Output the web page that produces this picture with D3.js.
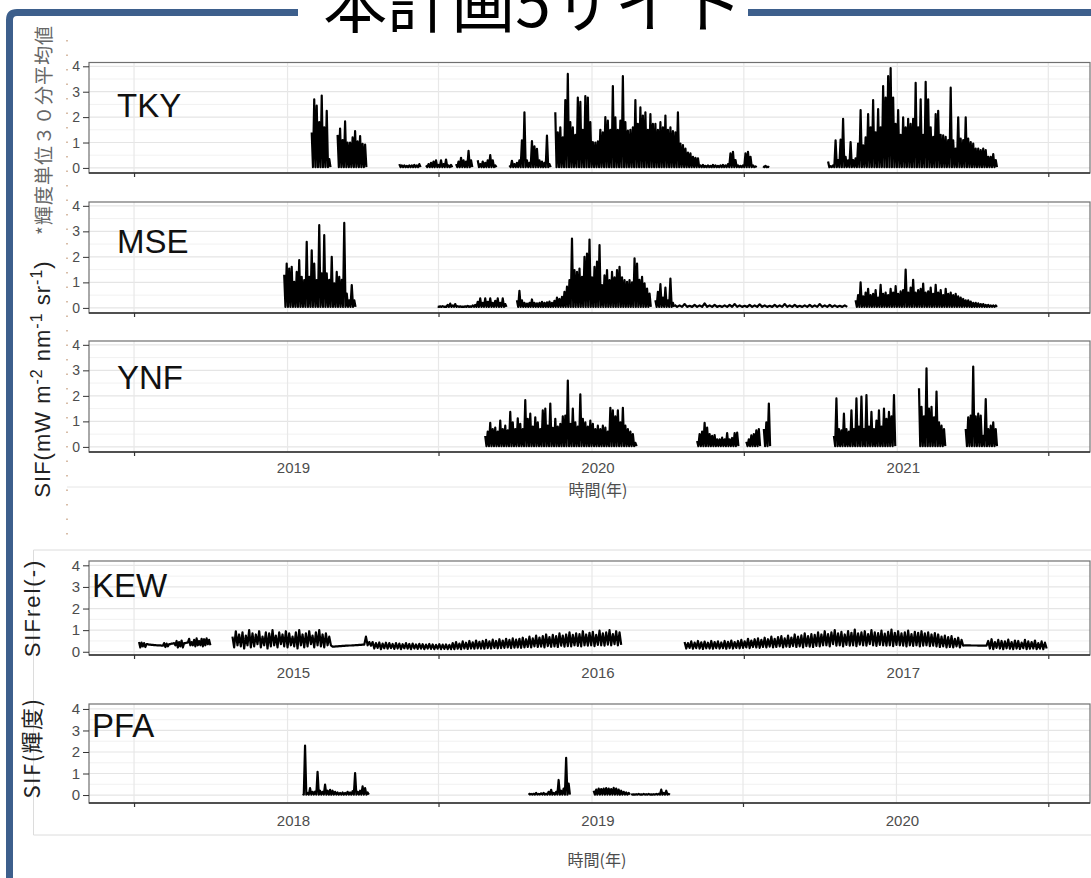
<!DOCTYPE html>
<html>
<head>
<meta charset="utf-8">
<script src="https://cdn.jsdelivr.net/npm/d3@7"></script>
<style>
  body { margin: 0; background: #fff; }
  text { font-family: "Liberation Sans", Arial, "Noto Sans CJK JP", sans-serif; }
  .jp { font-family: "Noto Sans CJK JP", "Liberation Sans", sans-serif; }
</style>
</head>
<body>
<svg id="chart" width="1091" height="878"></svg>
<script>
// ---- Data -------------------------------------------------------------
// Each segment: [start date, step in days, daily peak values (, daily low values)].
// Where no low values are given, each day falls back to the site's night floor.
const yTicks = [0, 1, 2, 3, 4];
const yMinor = [0.5, 1.5, 2.5, 3.5];

const tkyFloor = 0.03;
const tkySegments = [
  ["2019-01-30", 3, [1.4, 2.7, 2.45, 1.8, 2.85, 1.6, 2.25, 0.35]],
  ["2019-03-02", 3, [1.3, 1.55, 1.1, 1.83, 1.0, 1.0, 1.2, 1.45, 1.05, 1.25, 0.95, 0.92]],
  ["2019-05-15", 3, [0.15, 0.1, 0.1, 0.08, 0.1, 0.1, 0.12, 0.1, 0.15]],
  ["2019-06-16", 3, [0.1, 0.15, 0.2, 0.25, 0.3, 0.12, 0.3, 0.15, 0.33, 0.1, 0.12]],
  ["2019-07-22", 3, [0.15, 0.25, 0.4, 0.3, 0.25, 0.67, 0.3]],
  ["2019-08-17", 3, [0.3, 0.15, 0.25, 0.2, 0.3, 0.5, 0.3, 0.1]],
  ["2019-09-24", 3, [0.1, 0.28, 0.15, 0.2, 0.3, 1.09, 2.19, 0.3, 0.2, 1.06, 0.85, 0.75, 0.3, 0.25, 0.2, 1.27, 0.15]],
  ["2019-11-18", 3, [2.19, 1.4, 1.6, 1.2, 2.67, 3.7, 1.8, 1.6, 1.3, 2.77,
                     2.6, 1.5, 2.83, 2.77, 1.8, 1.02, 1.0, 1.05, 1.5, 1.4,
                     2.0, 1.86, 1.5, 3.22, 1.99, 1.5, 1.86, 3.61, 1.8, 1.47,
                     1.5, 1.6, 2.67, 1.73, 2.38, 2.06, 2.19, 1.5, 2.12, 1.73,
                     1.73, 1.5, 1.8, 1.6, 2.06, 1.5, 1.6, 1.45, 1.4, 2.19,
                     0.96, 0.9, 0.76, 0.6, 0.57, 0.44, 0.4, 0.38, 0.1, 0.12,
                     0.08, 0.1, 0.08, 0.12, 0.1, 0.08, 0.1, 0.12, 0.1, 0.15,
                     0.57, 0.63, 0.31, 0.1, 0.08, 0.1, 0.57, 0.63, 0.44, 0.1, 0.06]],
  ["2020-07-24", 3, [0.06, 0.08, 0.05]],
  ["2020-10-10", 3, [0.25, 0.07, 0.1, 1.09, 0.31, 1.11, 1.93, 0.44, 0.3, 1.02,
                     0.31, 0.38, 0.96, 2.28, 0.89, 1.2, 2.12, 1.6, 2.67, 1.4,
                     2.32, 1.6, 3.22, 2.77, 3.61, 3.93, 2.77, 1.73, 2.28, 1.3,
                     1.99, 1.6, 1.93, 1.73, 1.93, 3.35, 1.6, 2.7, 1.3, 3.39,
                     2.7, 1.6, 1.22, 2.12, 2.25, 1.3, 1.28, 1.22, 1.1, 3.16,
                     1.09, 0.76, 1.99, 1.15, 1.1, 1.99, 1.15, 1.02, 0.96, 0.76,
                     0.76, 0.7, 0.76, 0.7, 0.44, 0.44, 0.54, 0.31]]
];

const mseFloor = 0.04;
const mseSegments = [
  ["2018-12-28", 3, [1.3, 1.74, 1.54, 1.61, 1.02, 1.41, 1.87, 1.22, 1.09, 2.59,
                     1.22, 2.26, 1.74, 1.09, 3.24, 1.35, 2.85, 1.35, 1.1, 2.0,
                     0.96, 1.41, 1.22, 1.1, 3.33, 0.56, 0.3, 0.89, 0.3]],
  ["2019-06-30", 3, [0.05, 0.06, 0.07, 0.05, 0.12, 0.17, 0.1, 0.15, 0.07, 0.06,
                     0.05, 0.06, 0.08, 0.06, 0.1, 0.12, 0.24, 0.37, 0.2, 0.37,
                     0.24, 0.37, 0.2, 0.28, 0.37, 0.2, 0.37, 0.15]],
  ["2019-10-03", 3, [0.3, 0.67, 0.3, 0.2, 0.17, 0.2, 0.33, 0.2, 0.18, 0.2,
                     0.24, 0.2, 0.22, 0.25, 0.2, 0.28, 0.4, 0.35, 0.43, 0.63,
                     0.83, 1.09, 2.72, 1.48, 1.41, 1.54, 1.22, 2.0, 2.13, 2.68,
                     1.2, 1.61, 1.81, 2.46, 0.89, 1.28, 1.48, 1.09, 1.41, 1.2,
                     1.48, 1.61, 1.2, 1.09, 1.02, 1.09, 1.0, 1.94, 1.74, 1.1,
                     1.22, 0.96, 0.76, 0.56]],
  ["2020-03-17", 3, [0.3, 0.63, 0.93, 0.4, 0.8, 0.3, 1.15, 0.2]],
  ["2020-04-09", 6, [0.12, 0.1, 0.15, 0.08, 0.12, 0.1, 0.18, 0.1, 0.12, 0.08,
                     0.1, 0.12, 0.15, 0.1, 0.08, 0.12, 0.1, 0.14, 0.1, 0.08,
                     0.12, 0.1, 0.15, 0.1, 0.12, 0.08, 0.1, 0.12, 0.1, 0.15,
                     0.1, 0.12, 0.1, 0.08, 0.1]],
  ["2020-11-12", 3, [0.3, 0.5, 1.0, 0.45, 0.6, 0.75, 0.5, 0.55, 0.7, 0.4,
                     0.9, 0.55, 0.6, 0.5, 0.75, 0.6, 0.85, 0.55, 0.65, 0.7,
                     1.5, 0.6, 0.8, 1.1, 0.6, 0.7, 0.75, 0.95, 0.6, 0.65,
                     0.8, 0.55, 0.9, 0.6, 0.7, 0.5, 0.75, 0.55, 0.6, 0.5,
                     0.55, 0.45, 0.4, 0.35, 0.3, 0.3, 0.25, 0.2, 0.2, 0.18,
                     0.15, 0.15, 0.12, 0.12, 0.1, 0.1, 0.1]]
];

const ynfFloor = 0.03;
const ynfSegments = [
  ["2019-08-26", 3, [0.43, 0.6, 0.94, 0.7, 0.76, 0.6, 1.03, 0.7, 0.83, 0.65,
                     1.37, 0.96, 0.7, 1.12, 0.9, 0.7, 1.83, 1.1, 1.3, 0.8,
                     1.16, 0.96, 0.7, 1.43, 1.5, 0.83, 1.7, 0.75, 1.1, 0.8,
                     0.9, 1.2, 1.23, 2.6, 0.9, 1.5, 0.96, 0.8, 2.06, 1.1,
                     0.96, 0.8, 1.03, 0.9, 0.7, 0.83, 0.7, 0.83, 0.76, 0.6,
                     1.53, 1.43, 1.2, 1.43, 0.96, 1.53, 0.83, 0.7, 0.6, 0.5, 0.16]],
  ["2020-05-06", 3, [0.23, 0.5, 0.6, 0.94, 0.76, 0.5, 0.43, 0.46, 0.3, 0.3,
                     0.36, 0.3, 0.54, 0.3, 0.35, 0.54, 0.56]],
  ["2020-07-04", 3, [0.2, 0.3, 0.45, 0.5, 0.65, 0.7]],
  ["2020-07-25", 3, [0.7, 0.96, 1.7]],
  ["2020-10-17", 3, [0.43, 1.9, 0.7, 0.65, 1.3, 0.7, 0.6, 1.43, 0.7, 1.9,
                     0.8, 1.97, 0.7, 2.03, 0.8, 1.37, 0.7, 1.03, 1.43, 0.8,
                     1.5, 1.1, 1.37, 1.2, 2.03]],
  ["2021-01-27", 3, [2.3, 1.57, 1.2, 3.08, 1.5, 1.57, 1.16, 2.17, 0.96, 0.83, 0.7]],
  ["2021-03-24", 3, [0.7, 1.16, 1.23, 3.15, 1.2, 1.3, 1.23, 0.43, 1.87, 0.7, 0.83, 0.96, 0.7]]
];

const kewHi1 = [0.45, 0.42, 0.4, 0.35, 0.33, 0.32, 0.31, 0.3, 0.3, 0.28,
                0.4, 0.38, 0.35, 0.38, 0.4, 0.5, 0.45, 0.52, 0.4, 0.42,
                0.6, 0.45, 0.55, 0.62, 0.5, 0.6, 0.58, 0.62, 0.55];
const kewLo1 = [0.2, 0.25, 0.22, 0.35, 0.33, 0.32, 0.31, 0.3, 0.3, 0.28,
                0.22, 0.25, 0.35, 0.38, 0.3, 0.2, 0.25, 0.2, 0.4, 0.42,
                0.3, 0.3, 0.25, 0.3, 0.3, 0.25, 0.3, 0.35, 0.3];
const kewHi2 = [0.7, 0.95, 0.8, 0.9, 0.75, 1.0, 0.85, 0.8, 0.95, 0.7,
                0.9, 0.85, 1.0, 0.75, 0.9, 0.8, 0.95, 0.85, 0.7, 0.9,
                1.0, 0.8, 0.85, 0.95, 0.75, 0.9, 1.0, 0.8, 0.85, 0.7,
                0.24, 0.25, 0.26, 0.27, 0.28, 0.29, 0.3, 0.31, 0.32, 0.33,
                0.7, 0.45,
                0.45, 0.4, 0.43, 0.38, 0.42, 0.4, 0.36, 0.4, 0.38, 0.35,
                0.4, 0.36, 0.38, 0.34, 0.37, 0.35, 0.33, 0.36, 0.34, 0.32,
                0.35, 0.33, 0.34, 0.32,
                0.4, 0.45, 0.38, 0.48, 0.42, 0.5, 0.44, 0.52, 0.46, 0.5,
                0.55, 0.48, 0.56, 0.5, 0.58, 0.52, 0.6, 0.55, 0.62, 0.56, 0.6,
                0.65, 0.58, 0.7, 0.62, 0.75, 0.66, 0.72, 0.8, 0.68, 0.78,
                0.72, 0.85, 0.75, 0.8, 0.9, 0.78, 0.85, 0.82, 0.95, 0.8,
                0.88, 0.92, 0.78, 0.98, 0.85, 0.9, 1.0, 0.82, 0.95, 0.9];
const kewLo2 = [0.2, 0.3, 0.25, 0.15, 0.3, 0.2, 0.25, 0.35, 0.2, 0.3,
                0.15, 0.25, 0.3, 0.2, 0.35, 0.25, 0.2, 0.3, 0.25, 0.15,
                0.3, 0.2, 0.25, 0.35, 0.2, 0.3, 0.25, 0.2, 0.3, 0.3,
                0.24, 0.25, 0.26, 0.27, 0.28, 0.29, 0.3, 0.31, 0.32, 0.33,
                0.3, 0.28,
                0.15, 0.18, 0.12, 0.16, 0.14, 0.17, 0.13, 0.15, 0.12, 0.16,
                0.14, 0.12, 0.15, 0.13, 0.14, 0.12, 0.15, 0.13, 0.12, 0.14,
                0.12, 0.13, 0.12, 0.12,
                0.12, 0.14, 0.12, 0.15, 0.13, 0.15, 0.14, 0.16, 0.15, 0.14,
                0.17, 0.15, 0.18, 0.16, 0.17, 0.18, 0.2, 0.17, 0.19, 0.2, 0.18,
                0.2, 0.22, 0.2, 0.25, 0.22, 0.24, 0.2, 0.26, 0.23, 0.25,
                0.22, 0.28, 0.24, 0.26, 0.25, 0.3, 0.27, 0.25, 0.3, 0.28,
                0.3, 0.26, 0.32, 0.3, 0.28, 0.33, 0.3, 0.35, 0.3, 0.32];
const kewHi3 = [0.45, 0.4, 0.48, 0.42, 0.5, 0.44, 0.47, 0.42, 0.5, 0.45,
                0.48, 0.43, 0.5, 0.46, 0.52, 0.45, 0.5,
                0.55, 0.48, 0.6, 0.52, 0.58, 0.62, 0.55, 0.65, 0.58, 0.7,
                0.6, 0.68, 0.72, 0.62, 0.75, 0.66, 0.8, 0.7, 0.76, 0.85,
                0.72, 0.82, 0.78, 0.9, 0.8,
                0.95, 0.82, 0.9, 1.0, 0.85, 0.92, 0.8, 0.96, 0.88, 1.02,
                0.85, 0.9, 0.95, 0.82, 1.0, 0.9, 0.86, 0.98, 0.84, 0.92,
                1.03, 0.88, 0.95, 0.85, 0.9, 0.98, 0.82, 0.92, 0.88, 0.95,
                0.85, 0.9, 0.8, 0.86,
                0.8, 0.7, 0.75, 0.68, 0.72, 0.6, 0.65, 0.55,
                0.3, 0.3, 0.29, 0.29, 0.28, 0.28, 0.28,
                0.5, 0.58, 0.45, 0.55, 0.5, 0.48, 0.56, 0.45, 0.52, 0.5,
                0.42, 0.55, 0.48, 0.45, 0.52, 0.4, 0.48, 0.42];
const kewLo3 = [0.15, 0.18, 0.14, 0.17, 0.15, 0.13, 0.16, 0.15, 0.14, 0.17,
                0.15, 0.16, 0.14, 0.17, 0.15, 0.18, 0.16,
                0.18, 0.2, 0.17, 0.22, 0.2, 0.18, 0.22, 0.2, 0.24, 0.2,
                0.22, 0.25, 0.2, 0.24, 0.22, 0.26, 0.22, 0.25, 0.2, 0.26,
                0.24, 0.22, 0.27, 0.25, 0.3,
                0.3, 0.25, 0.35, 0.28, 0.3, 0.25, 0.32, 0.28, 0.3, 0.26,
                0.33, 0.3, 0.28, 0.35, 0.3, 0.27, 0.32, 0.3, 0.28, 0.3,
                0.26, 0.32, 0.3, 0.28, 0.25, 0.3, 0.27, 0.3, 0.25, 0.28,
                0.3, 0.26, 0.28, 0.25,
                0.22, 0.25, 0.2, 0.22, 0.2, 0.25, 0.2, 0.28,
                0.3, 0.3, 0.29, 0.29, 0.28, 0.28, 0.28,
                0.15, 0.12, 0.18, 0.15, 0.12, 0.16, 0.14, 0.12, 0.15, 0.13,
                0.16, 0.12, 0.14, 0.15, 0.12, 0.14, 0.12, 0.15];
const kewSegments = [
  ["2014-07-07", 3, kewHi1, kewLo1],
  ["2014-10-27", 4, kewHi2, kewLo2],
  ["2016-04-21", 4, kewHi3, kewLo3]
];

const pfaFloor = 0.02;
const pfaSegments = [
  ["2018-01-19", 3, [0.05, 2.3, 0.1, 0.32, 0.15, 0.16, 1.08, 0.2, 0.15, 0.48,
                     0.2, 0.24, 0.2, 0.15, 0.12, 0.1, 0.12, 0.1, 0.15, 0.12,
                     0.18, 1.02, 0.15, 0.2, 0.4, 0.32, 0.12]],
  ["2018-10-17", 3, [0.08, 0.05, 0.06, 0.1, 0.05, 0.08, 0.1, 0.06, 0.15, 0.24,
                     0.1, 0.15, 0.7, 0.2, 0.3, 1.73, 0.53]],
  ["2019-01-03", 3, [0.2, 0.25, 0.3, 0.28, 0.3, 0.32, 0.3, 0.28, 0.33, 0.3,
                     0.25, 0.2, 0.15, 0.12, 0.1]],
  ["2019-02-17", 3, [0.05, 0.03, 0.04, 0.05, 0.03, 0.05, 0.04, 0.05, 0.03, 0.04,
                     0.05, 0.06, 0.25, 0.1, 0.2, 0.05]]
];

// ---- Layout -----------------------------------------------------------
const svg = d3.select("#chart");
const parse = d3.timeParse("%Y-%m-%d");
const DAY = 864e5;
const xLeft = 89, xRight = 1090;

const panels = [
  { label: "TKY", segs: tkySegments, floor: tkyFloor, year: 2019, top: 62.5, bottom: 173, yDomain: [-0.2, 4.15], lx: 117, ly: 117, fs: 14 },
  { label: "MSE", segs: mseSegments, floor: mseFloor, year: 2019, top: 202, bottom: 313, yDomain: [-0.2, 4.15], lx: 117, ly: 253, fs: 14 },
  { label: "YNF", segs: ynfSegments, floor: ynfFloor, year: 2019, top: 341, bottom: 452, yDomain: [-0.2, 4.15], lx: 117, ly: 389, fs: 14, years: true },
  { label: "KEW", segs: kewSegments, floor: 0, year: 2015, top: 561, bottom: 655, yDomain: [-0.15, 4.2], lx: 92, ly: 597, fs: 15, years: true },
  { label: "PFA", segs: pfaSegments, floor: pfaFloor, year: 2018, top: 704, bottom: 803, yDomain: [-0.37, 4.23], lx: 92, ly: 737, fs: 15, years: true }
];

// Page backdrop: pasted-figure outlines and the frame.
svg.append("line").attr("x1", 67).attr("x2", 1091).attr("y1", 487).attr("y2", 487)
  .attr("stroke", "#e6e6e6").attr("stroke-width", 1);
svg.append("path").attr("d", "M1091,550 H33.5 V835 H1091")
  .attr("fill", "none").attr("stroke", "#dcdcdc").attr("stroke-width", 1);
svg.append("line").attr("x1", 67).attr("x2", 67).attr("y1", 40).attr("y2", 545)
  .attr("stroke", "#b07a4e").attr("stroke-width", 1.3).attr("stroke-dasharray", "1.5 13")
  .attr("opacity", 0.75);

const line = (x, y) => d3.line().x(d => x(d[0])).y(d => y(d[1]));

function segPoints(seg, floor) {
  const [start, step, hi, lo] = seg;
  const t0 = +parse(start);
  const pts = [];
  hi.forEach((v, i) => {
    const t = t0 + i * step * DAY;
    pts.push([new Date(t), v]);
    pts.push([new Date(t + step * DAY / 2), lo ? lo[i] : floor]);
  });
  return pts;
}

panels.forEach((p, k) => {
  const x = d3.scaleTime()
    .domain([new Date(p.year - 1, 4, 8), new Date(p.year + 2, 7, 20)])
    .range([xLeft, xRight]);
  const y = d3.scaleLinear().domain(p.yDomain).range([p.bottom, p.top]);
  const g = svg.append("g");

  const jan = [p.year, p.year + 1, p.year + 2].map(yr => new Date(yr, 0, 1));
  const jul = [p.year - 1, p.year, p.year + 1, p.year + 2].map(yr => new Date(yr, 6, 1));

  // grid
  g.selectAll(".hmin").data(yMinor).join("line")
    .attr("x1", xLeft).attr("x2", xRight).attr("y1", d => y(d)).attr("y2", d => y(d))
    .attr("stroke", "#efefef").attr("stroke-width", 0.9);
  g.selectAll(".hmaj").data(yTicks).join("line")
    .attr("x1", xLeft).attr("x2", xRight).attr("y1", d => y(d)).attr("y2", d => y(d))
    .attr("stroke", "#e5e5e5").attr("stroke-width", 1.2);
  g.selectAll(".vg").data(jan.concat(jul)).join("line")
    .attr("x1", d => x(d)).attr("x2", d => x(d)).attr("y1", p.top).attr("y2", p.bottom)
    .attr("stroke", "#e8e8e8").attr("stroke-width", 1.2);

  // series
  const clipId = "clip" + k;
  svg.append("clipPath").attr("id", clipId).append("rect")
    .attr("x", xLeft).attr("y", p.top).attr("width", xRight - xLeft).attr("height", p.bottom - p.top);
  const lg = g.append("g").attr("clip-path", `url(#${clipId})`);
  p.segs.forEach(seg => {
    lg.append("path").datum(segPoints(seg, p.floor))
      .attr("d", line(x, y))
      .attr("fill", "none").attr("stroke", "#000").attr("stroke-width", 2.2)
      .attr("stroke-linejoin", "round");
  });

  // panel border
  g.append("rect").attr("x", xLeft).attr("y", p.top)
    .attr("width", xRight - xLeft).attr("height", p.bottom - p.top)
    .attr("fill", "none").attr("stroke", "#707070").attr("stroke-width", 1.2);
  g.append("line").attr("x1", xLeft).attr("x2", xRight).attr("y1", p.bottom).attr("y2", p.bottom)
    .attr("stroke", "#333").attr("stroke-width", 1.4);

  // y axis
  const ya = g.append("g").attr("transform", `translate(${xLeft},0)`)
    .call(d3.axisLeft(y).tickValues(yTicks).tickSize(6).tickPadding(3).tickFormat(d3.format("d")));
  ya.select(".domain").remove();
  ya.selectAll("line").attr("stroke", "#333");
  ya.selectAll("text").attr("fill", "#4d4d4d").style("font-size", p.fs + "px")
    .style("font-family", "'Liberation Sans', Arial, sans-serif");

  // x ticks
  const xa = g.append("g").attr("transform", `translate(0,${p.bottom})`)
    .call(d3.axisBottom(x).tickValues(jul).tickSize(4).tickFormat(""));
  xa.select(".domain").remove();
  xa.selectAll("line").attr("stroke", "#333").attr("stroke-width", 1.2);

  if (p.years) {
    g.selectAll(".yr").data(jan).join("text")
      .attr("x", d => x(d) + 6).attr("y", p.bottom + (k === 2 ? 20.5 : 23))
      .attr("text-anchor", "middle").attr("fill", "#4d4d4d")
      .style("font-size", "15px")
      .text(d3.timeFormat("%Y"));
  }

  // site label
  g.append("text").attr("x", p.lx).attr("y", p.ly)
    .attr("fill", "#111").style("font-size", "33px").text(p.label);
});

// x axis titles
svg.append("text").attr("class", "jp").attr("x", 598).attr("y", 496)
  .attr("text-anchor", "middle").attr("fill", "#4d4d4d").style("font-size", "16px").text("時間(年)");
svg.append("text").attr("class", "jp").attr("x", 597).attr("y", 866)
  .attr("text-anchor", "middle").attr("fill", "#4d4d4d").style("font-size", "16px").text("時間(年)");

// y axis titles
const sif = svg.append("text").attr("transform", "translate(50,379) rotate(-90)")
  .attr("text-anchor", "middle").attr("fill", "#222").style("font-size", "22px")
  .style("letter-spacing", "1px");
sif.append("tspan").text("SIF(mW m");
sif.append("tspan").attr("dy", -8).style("font-size", "16px").text("-2");
sif.append("tspan").attr("dy", 8).text(" nm");
sif.append("tspan").attr("dy", -8).style("font-size", "16px").text("-1");
sif.append("tspan").attr("dy", 8).text(" sr");
sif.append("tspan").attr("dy", -8).style("font-size", "16px").text("-1");
sif.append("tspan").attr("dy", 8).text(")");

svg.append("text").attr("class", "jp").attr("transform", "translate(51,130) rotate(-90)")
  .attr("text-anchor", "middle").attr("fill", "#666").style("font-size", "19px")
  .style("letter-spacing", "1px")
  .text("*輝度単位３０分平均値");

svg.append("text").attr("transform", "translate(40,608) rotate(-90)")
  .attr("text-anchor", "middle").attr("fill", "#222").style("font-size", "22px")
  .style("letter-spacing", "2px").text("SIFrel(-)");
svg.append("text").attr("class", "jp").attr("transform", "translate(40,748) rotate(-90)")
  .attr("text-anchor", "middle").attr("fill", "#222").style("font-size", "22px")
  .style("letter-spacing", "1.5px").text("SIF(輝度)");

// slide frame and title
svg.append("path").attr("d", "M9.5,878 V20 Q9.5,12.5 17,12.5 H298")
  .attr("fill", "none").attr("stroke", "#3d5f8c").attr("stroke-width", 7);
svg.append("line").attr("x1", 748).attr("x2", 1091).attr("y1", 12.5).attr("y2", 12.5)
  .attr("stroke", "#3d5f8c").attr("stroke-width", 7);
svg.append("text").attr("class", "jp").attr("x", 533).attr("y", 27)
  .attr("text-anchor", "middle").attr("fill", "#000").style("font-size", "64px")
  .text("本計画5サイト");
</script>
</body>
</html>
